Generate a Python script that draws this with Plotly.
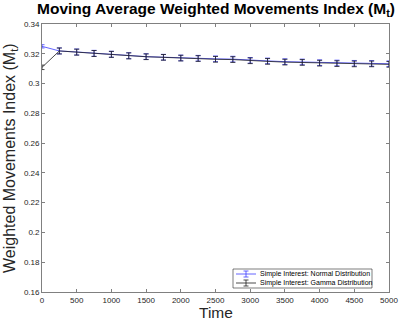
import plotly.graph_objects as go

time = [0, 250, 500, 750, 1000, 1250, 1500, 1750, 2000, 2250, 2500,
        2750, 3000, 3250, 3500, 3750, 4000, 4250, 4500, 4750, 5000]

normal_mean = [0.3250, 0.3219, 0.3212, 0.3203, 0.3197, 0.3187, 0.3181, 0.3177, 0.3172, 0.3170, 0.3166,
               0.3164, 0.3156, 0.3152, 0.3147, 0.3145, 0.3140, 0.3138, 0.3136, 0.3135, 0.3133]
normal_err = [0.0011, 0.0020, 0.0020, 0.0020, 0.0020, 0.0020, 0.0019, 0.0019, 0.0019, 0.0019, 0.0019,
              0.0019, 0.0019, 0.0019, 0.0019, 0.0019, 0.0019, 0.0019, 0.0019, 0.0019, 0.0019]

gamma_mean = [0.3109, 0.3219, 0.3211, 0.3202, 0.3196, 0.3186, 0.3180, 0.3176, 0.3171, 0.3168, 0.3163,
              0.3161, 0.3153, 0.3149, 0.3144, 0.3142, 0.3137, 0.3134, 0.3132, 0.3132, 0.3129]
gamma_err = [0.0015, 0.0020, 0.0020, 0.0020, 0.0020, 0.0020, 0.0019, 0.0019, 0.0019, 0.0019, 0.0019,
             0.0019, 0.0019, 0.0019, 0.0019, 0.0019, 0.0019, 0.0019, 0.0019, 0.0019, 0.0019]

names = ["Simple Interest: Normal Distribution", "Simple Interest: Gamma Distribution"]
colors = ["rgb(60,60,255)", "rgb(30,30,30)"]

FONT = "Liberation Sans, Arial, Helvetica, sans-serif"
TXT = "rgb(38,38,38)"

W, H = 399, 322
ML, MR, MT, MB = 42, 10, 24, 30
PW, PH = W - ML - MR, H - MT - MB


def px(x):
    return (x - ML) / PW


def py(y):
    return (H - MB - y) / PH


fig = go.Figure()
for ys, err, name, col in [(normal_mean, normal_err, names[0], colors[0]),
                           (gamma_mean, gamma_err, names[1], colors[1])]:
    fig.add_trace(go.Scatter(
        x=time, y=ys, mode="lines", name=name, showlegend=False,
        line=dict(color=col, width=0.8),
        error_y=dict(type="data", array=err, color=col, thickness=0.8, width=2.5),
    ))

axis_style = dict(
    showgrid=False, zeroline=False, showline=True, linecolor="rgb(128,128,128)", linewidth=0.8,
    mirror="ticks", ticks="inside", ticklen=3, tickcolor="rgb(128,128,128)", tickwidth=0.8,
    tickfont=dict(family=FONT, size=8, color=TXT), automargin=False,
)

# hand-built legend box (compact MATLAB-style legend)
bx0, bx1, by0, by1 = 233, 372, 269, 288
shapes = [dict(type="rect", xref="paper", yref="paper", x0=px(bx0), x1=px(bx1), y0=py(by1), y1=py(by0),
               line=dict(color=TXT, width=0.6), fillcolor="white", layer="above")]
annotations = []
for i, (name, col) in enumerate(zip(names, colors)):
    yc = by0 + 5 + i * 9
    shapes.append(dict(type="line", xref="paper", yref="paper", x0=px(bx0 + 3), x1=px(bx0 + 23),
                       y0=py(yc), y1=py(yc), line=dict(color=col, width=0.8), layer="above"))
    shapes.append(dict(type="line", xref="paper", yref="paper", x0=px(bx0 + 13), x1=px(bx0 + 13),
                       y0=py(yc - 3), y1=py(yc + 3), line=dict(color=col, width=0.8), layer="above"))
    for d in (-3, 3):
        shapes.append(dict(type="line", xref="paper", yref="paper", x0=px(bx0 + 10.5), x1=px(bx0 + 15.5),
                           y0=py(yc + d), y1=py(yc + d), line=dict(color=col, width=0.8), layer="above"))
    annotations.append(dict(text=name, xref="paper", yref="paper", x=px(bx0 + 25), y=py(yc),
                            xanchor="left", yanchor="middle", showarrow=False,
                            font=dict(family=FONT, size=7, color="black")))

annotations.append(dict(text="Time", xref="paper", yref="paper", x=0.5, y=py(312),
                        xanchor="center", yanchor="middle", showarrow=False,
                        font=dict(family=FONT, size=15.5, color=TXT)))
annotations.append(dict(text="Weighted Movements Index (M<sub>t</sub>)", xref="paper", yref="paper",
                        x=px(10), y=0.5, xanchor="center", yanchor="middle", textangle=-90,
                        showarrow=False, font=dict(family=FONT, size=16, color=TXT)))

fig.update_layout(
    width=W, height=H,
    margin=dict(l=ML, r=MR, t=MT, b=MB),
    paper_bgcolor="white", plot_bgcolor="white",
    font=dict(family=FONT, color=TXT),
    title=dict(text="<b>Moving Average Weighted Movements Index (M<sub>t</sub>)</b>",
               xref="paper", x=px(216), xanchor="center", y=0.99, yanchor="top",
               font=dict(family=FONT, size=15.5, color="black")),
    xaxis=dict(range=[0, 5000], tickvals=list(range(0, 5001, 500)), **axis_style),
    yaxis=dict(range=[0.16, 0.34], tickvals=[0.16, 0.18, 0.2, 0.22, 0.24, 0.26, 0.28, 0.3, 0.32, 0.34],
               ticktext=["0.16", "0.18", "0.2", "0.22", "0.24", "0.26", "0.28", "0.3", "0.32", "0.34"],
               **axis_style),
    shapes=shapes,
    annotations=annotations,
    showlegend=False,
)

fig.write_html("out.html", config={"displayModeBar": False},
               post_script="document.body.style.margin='0';")
